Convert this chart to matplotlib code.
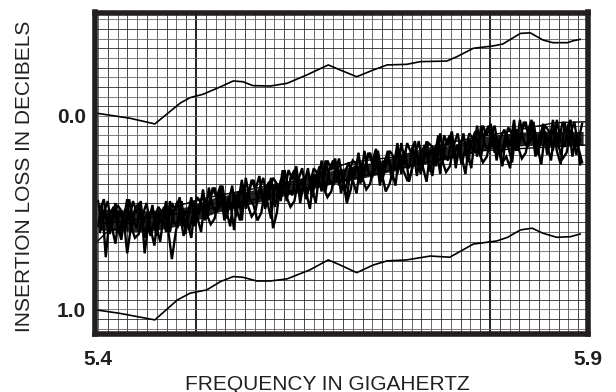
import numpy as np
import matplotlib
matplotlib.use("Agg")
import matplotlib.pyplot as plt

# ---------------- data ----------------
x_ticks = [5.4, 5.9]
x_ticklabels = ["5.4", "5.9"]
y_ticks = [0.0, 1.0]
y_ticklabels = ["0.0", "1.0"]

# upper smooth envelope curve
upper_f = [5.399, 5.433, 5.458, 5.484, 5.494, 5.507, 5.525, 5.538, 5.548, 5.558,
           5.576, 5.593, 5.613, 5.635, 5.647, 5.664, 5.681, 5.695, 5.715, 5.729,
           5.756, 5.766, 5.783, 5.803, 5.813, 5.831, 5.841, 5.854, 5.864, 5.879,
           5.885, 5.892]
upper_db = [-0.014, 0.012, 0.041, -0.067, -0.095, -0.112, -0.151, -0.181, -0.177, -0.157,
            -0.155, -0.169, -0.212, -0.264, -0.238, -0.203, -0.238, -0.264, -0.267, -0.281,
            -0.284, -0.306, -0.350, -0.362, -0.372, -0.427, -0.430, -0.393, -0.379, -0.379,
            -0.389, -0.396]

# lower smooth envelope curve
lower_f = [5.399, 5.422, 5.458, 5.481, 5.494, 5.511, 5.525, 5.538, 5.548, 5.562,
           5.576, 5.593, 5.616, 5.635, 5.647, 5.664, 5.681, 5.695, 5.715, 5.739,
           5.759, 5.783, 5.807, 5.818, 5.831, 5.843, 5.854, 5.868, 5.882, 5.892]
lower_db = [1.003, 1.020, 1.054, 0.951, 0.916, 0.899, 0.856, 0.830, 0.834, 0.853,
            0.853, 0.842, 0.796, 0.744, 0.770, 0.810, 0.770, 0.749, 0.744, 0.724,
            0.730, 0.662, 0.646, 0.627, 0.589, 0.580, 0.606, 0.627, 0.624, 0.610]

# dense core of the overlaid measured traces
core_f = [5.40, 5.45, 5.49, 5.52, 5.56, 5.60, 5.64, 5.68, 5.72, 5.76, 5.80, 5.84, 5.895]
core_top = [0.48, 0.49, 0.47, 0.42, 0.38, 0.33, 0.28, 0.24, 0.19, 0.15, 0.10, 0.08, 0.08]
core_bot = [0.59, 0.60, 0.56, 0.50, 0.45, 0.40, 0.35, 0.31, 0.26, 0.22, 0.17, 0.15, 0.15]

# measured (noisy) traces, sampled on two interleaved frequency grids
grid1_f = np.linspace(5.400, 5.892, 125)
grid2_f = np.linspace(5.402, 5.894, 125)
trace_a = [0.44, 0.55, 0.50, 0.61, 0.53, 0.46, 0.49, 0.59, 0.43, 0.54,
           0.58, 0.46, 0.63, 0.52, 0.48, 0.57, 0.65, 0.49, 0.55, 0.45,
           0.49, 0.42, 0.57, 0.52, 0.42, 0.57, 0.47, 0.41, 0.51, 0.56,
           0.53, 0.43, 0.36, 0.49, 0.57, 0.40, 0.45, 0.33, 0.48, 0.37,
           0.33, 0.43, 0.38, 0.48, 0.40, 0.32, 0.35, 0.44, 0.28, 0.38,
           0.41, 0.28, 0.45, 0.33, 0.29, 0.37, 0.45, 0.28, 0.34, 0.23,
           0.28, 0.22, 0.36, 0.32, 0.45, 0.38, 0.27, 0.22, 0.32, 0.38,
           0.35, 0.24, 0.18, 0.30, 0.39, 0.35, 0.27, 0.14, 0.30, 0.18,
           0.34, 0.25, 0.19, 0.30, 0.21, 0.14, 0.16, 0.26, 0.09, 0.20,
           0.23, 0.10, 0.27, 0.15, 0.11, 0.19, 0.27, 0.10, 0.16, 0.05,
           0.10, 0.04, 0.19, 0.14, 0.24, 0.21, 0.27, 0.05, 0.16, 0.22,
           0.19, 0.09, 0.03, 0.16, 0.25, 0.08, 0.14, 0.02, 0.18, 0.25,
           0.03, 0.14, 0.09, 0.20, 0.12]
trace_b = [0.57, 0.45, 0.73, 0.51, 0.47, 0.56, 0.64, 0.48, 0.54, 0.44,
           0.50, 0.44, 0.71, 0.55, 0.46, 0.62, 0.52, 0.47, 0.58, 0.74,
           0.60, 0.49, 0.62, 0.55, 0.63, 0.45, 0.51, 0.38, 0.53, 0.41,
           0.37, 0.48, 0.42, 0.53, 0.44, 0.59, 0.39, 0.54, 0.32, 0.43,
           0.46, 0.54, 0.50, 0.38, 0.34, 0.58, 0.50, 0.33, 0.39, 0.28,
           0.33, 0.26, 0.41, 0.36, 0.27, 0.42, 0.32, 0.26, 0.37, 0.42,
           0.39, 0.29, 0.22, 0.35, 0.43, 0.26, 0.31, 0.19, 0.34, 0.23,
           0.19, 0.29, 0.24, 0.34, 0.26, 0.18, 0.21, 0.30, 0.14, 0.24,
           0.27, 0.15, 0.31, 0.20, 0.15, 0.24, 0.31, 0.15, 0.30, 0.10,
           0.15, 0.08, 0.23, 0.18, 0.09, 0.24, 0.14, 0.08, 0.19, 0.24,
           0.21, 0.11, 0.05, 0.17, 0.26, 0.09, 0.15, 0.02, 0.18, 0.07,
           0.03, 0.14, 0.09, 0.20, 0.12, 0.05, 0.08, 0.18, 0.02, 0.13,
           0.16, 0.04, 0.21, 0.10, 0.25]
trace_c = [0.49, 0.43, 0.58, 0.54, 0.45, 0.61, 0.51, 0.71, 0.57, 0.63,
           0.61, 0.51, 0.45, 0.58, 0.67, 0.50, 0.56, 0.44, 0.60, 0.49,
           0.44, 0.54, 0.49, 0.59, 0.50, 0.42, 0.45, 0.54, 0.37, 0.47,
           0.50, 0.38, 0.54, 0.43, 0.38, 0.47, 0.54, 0.38, 0.43, 0.33,
           0.38, 0.31, 0.46, 0.41, 0.32, 0.47, 0.37, 0.31, 0.42, 0.47,
           0.44, 0.33, 0.27, 0.39, 0.48, 0.30, 0.36, 0.23, 0.39, 0.27,
           0.23, 0.34, 0.28, 0.39, 0.30, 0.23, 0.25, 0.35, 0.18, 0.29,
           0.32, 0.19, 0.36, 0.24, 0.20, 0.28, 0.36, 0.19, 0.25, 0.14,
           0.19, 0.13, 0.27, 0.23, 0.13, 0.29, 0.18, 0.13, 0.23, 0.29,
           0.26, 0.15, 0.09, 0.21, 0.30, 0.12, 0.18, 0.05, 0.21, 0.09,
           0.05, 0.16, 0.11, 0.21, 0.13, 0.06, 0.09, 0.18, 0.02, 0.13,
           0.16, 0.04, 0.21, 0.10, 0.06, 0.15, 0.23, 0.07, 0.13, 0.03,
           0.08, 0.02, 0.17, 0.13, 0.04]
trace_d = [0.60, 0.50, 0.44, 0.57, 0.66, 0.49, 0.55, 0.43, 0.59, 0.48,
           0.45, 0.56, 0.51, 0.62, 0.54, 0.47, 0.50, 0.60, 0.44, 0.55,
           0.57, 0.44, 0.61, 0.49, 0.44, 0.52, 0.60, 0.43, 0.48, 0.37,
           0.42, 0.36, 0.50, 0.46, 0.36, 0.52, 0.41, 0.36, 0.46, 0.52,
           0.49, 0.38, 0.32, 0.44, 0.53, 0.35, 0.41, 0.28, 0.44, 0.32,
           0.28, 0.38, 0.33, 0.43, 0.35, 0.27, 0.30, 0.39, 0.23, 0.33,
           0.36, 0.24, 0.40, 0.29, 0.24, 0.33, 0.40, 0.24, 0.29, 0.19,
           0.24, 0.17, 0.32, 0.27, 0.18, 0.33, 0.23, 0.17, 0.28, 0.33,
           0.30, 0.20, 0.13, 0.26, 0.34, 0.17, 0.22, 0.10, 0.25, 0.14,
           0.10, 0.20, 0.15, 0.25, 0.17, 0.09, 0.12, 0.21, 0.05, 0.15,
           0.18, 0.06, 0.23, 0.11, 0.07, 0.16, 0.24, 0.07, 0.13, 0.03,
           0.08, 0.02, 0.17, 0.13, 0.04, 0.20, 0.10, 0.05, 0.16, 0.22,
           0.19, 0.09, 0.03, 0.16, 0.24]

# smooth (computed) traces running through the noisy band
smooth1_f = [5.399, 5.409, 5.453, 5.504, 5.565, 5.606, 5.657, 5.705, 5.739, 5.766,
             5.810, 5.866, 5.897]
smooth1_db = [0.65, 0.60, 0.51, 0.43, 0.37, 0.33, 0.24, 0.21, 0.165, 0.13,
              0.09, 0.035, 0.03]
smooth2_f = [5.399, 5.504, 5.606, 5.708, 5.790, 5.897]
smooth2_db = [0.56, 0.49, 0.38, 0.27, 0.18, 0.15]

# ---------------- figure ----------------
INK = "#231f20"
fig = plt.figure(figsize=(6.16, 3.92), dpi=100)
W, H = 616, 392
left, right, top, bottom = 94.5, 588, 12.5, 334
ax = fig.add_axes([left / W, 1 - bottom / H, (right - left) / W, (bottom - top) / H])

ax.set_xlim(5.39643, 5.9)
ax.set_ylim(1.127, -0.535)

# graph-paper grid
for k, gx in enumerate(np.arange(5.40, 5.895, 0.01)):
    major = abs(gx - 5.5) < 1e-6 or abs(gx - 5.8) < 1e-6
    ax.axvline(gx, color="#111111" if major else ("#2a2a2a" if k % 2 else "#555555"),
               lw=1.3 if major else 0.6, zorder=1)
for k, gy in enumerate(np.arange(-0.50, 1.13, 0.05)):
    ax.axhline(gy, color="#2a2a2a" if k % 2 else "#666666", lw=0.6, zorder=1)

# data
ax.plot(upper_f, upper_db, color="black", lw=1.2, zorder=3)
ax.plot(lower_f, lower_db, color="black", lw=1.2, zorder=3)
ax.fill_between(core_f, core_top, core_bot, color="black", alpha=0.85, lw=0, zorder=2)
for fr, tr in ((grid1_f, trace_a), (grid1_f, trace_b), (grid2_f, trace_c), (grid2_f, trace_d)):
    ax.plot(fr, tr, color="black", lw=1.7, zorder=3, solid_joinstyle="miter")
ax.plot(smooth1_f, smooth1_db, color="black", lw=1.0, zorder=3)
ax.plot(smooth2_f, smooth2_db, color="black", lw=1.0, zorder=3)

for s in ax.spines.values():
    s.set_linewidth(4.0)
    s.set_color(INK)
    s.set_zorder(5)

ax.set_xticks(x_ticks)
ax.set_xticklabels(x_ticklabels, fontsize=15, fontweight="bold",
                   family="Liberation Sans", color=INK)
ax.set_yticks(y_ticks)
ax.set_yticklabels(y_ticklabels, fontsize=15, fontweight="bold",
                   family="Liberation Sans", color=INK)
ax.tick_params(axis="x", length=0, pad=11.5)
ax.tick_params(axis="y", length=0, pad=6)

fig.text(327 / W, 1 - 384 / H, "FREQUENCY IN GIGAHERTZ", ha="center", va="center",
         fontsize=15, family="Liberation Sans", color=INK)
fig.text(25 / W, 1 - 176 / H, "INSERTION LOSS IN DECIBELS", ha="center", va="center",
         rotation=90, fontsize=15, family="Liberation Sans", color=INK)

fig.savefig("out.png", dpi=100, facecolor="white")
